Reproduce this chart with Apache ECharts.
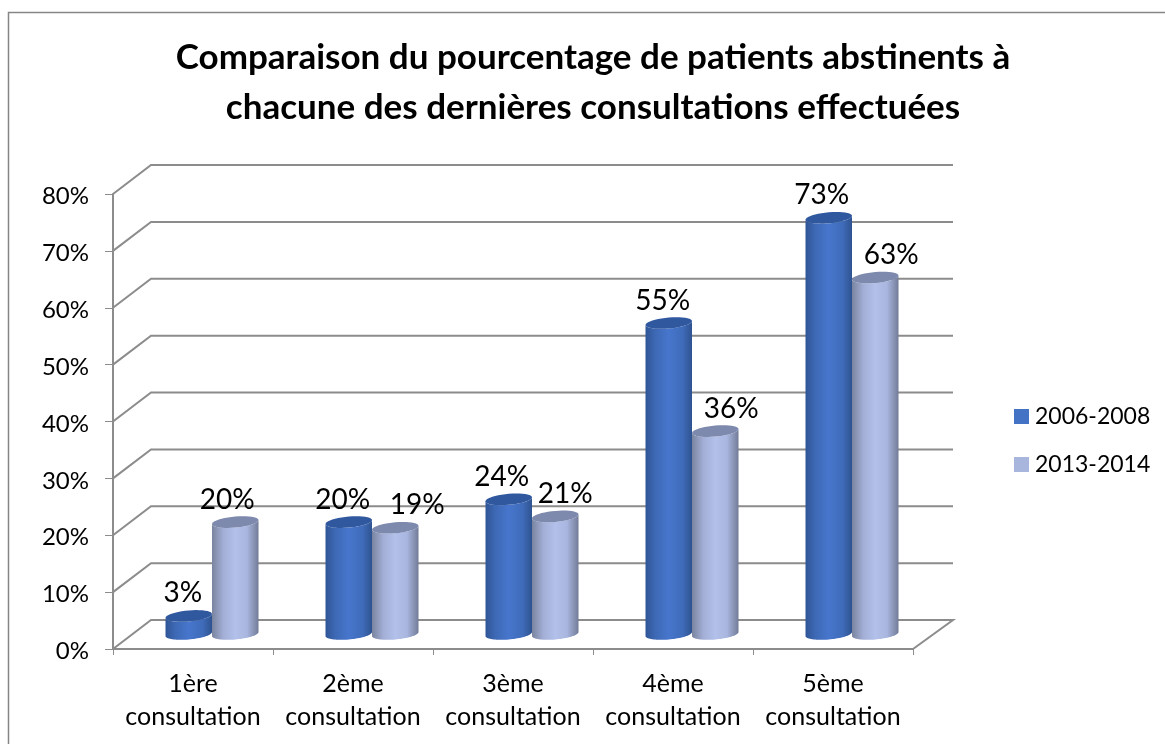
<!DOCTYPE html>
<html><head><meta charset="utf-8">
<style>html,body{margin:0;padding:0;background:#fff}#c{width:1165px;height:744px}</style>
<script src="https://cdn.jsdelivr.net/npm/echarts@6/dist/echarts.min.js"></script>
</head><body><div id="c"></div>
<script>
const categories = ['1ère\nconsultation','2ème\nconsultation','3ème\nconsultation','4ème\nconsultation','5ème\nconsultation'];
const seriesNames = ['2006-2008','2013-2014'];
const values2006 = [3,19.5,23.5,54.5,73];
const values2013 = [19.5,18.5,20.5,35.5,62.5];
const labelShift2006 = [-6,-6,-7,-6,-7];
const labelShift2013 = [-8,22,10,16,16];
const yTicks = [0,10,20,30,40,50,60,70,80];

const FONT='Lato, Carlito, sans-serif';
const GRAY='#8c8c8c';
const chart=echarts.init(document.getElementById('c'),null,{renderer:'canvas'});

function wallItem(params,api){
  const v=api.value(0);
  const w=api.size([1,0])[0];
  const l=api.coord([0,v]); const r=api.coord([4,v]);
  const x0=l[0]-w/2, x1=r[0]+w/2, y=l[1];
  const dx=w*38/160, dy=-29;
  const pts=[[x0,y],[x0+dx,y+dy],[x1+dx+2,y+dy]];
  if(v===0) pts.push([x1,y]);
  return {type:'polyline',shape:{points:pts},style:{fill:null,stroke:GRAY,lineWidth:2},silent:true};
}
function ellipsePts(cx,cy,a,b,k,from,to){
  const out=[];const n=40;
  for(let i=0;i<=n;i++){
    const t=from+(to-from)*i/n;
    out.push([cx+a*Math.cos(t),cy+b*Math.sin(t)-k*a*Math.cos(t)]);
  }
  return out;
}
function cylinder(side,body,top,shifts){
  return function(params,api){
    const c=api.value(0), v=api.value(1);
    const w=api.size([1,0])[0];
    const bw=w*46.5/160;
    const off=w*19/160;
    const cx=api.coord([c,0])[0]+off+side*bw/2;
    const base=api.coord([c,0])[1]-15;
    const topY=api.coord([c,v])[1]-16;
    const a=bw/2,b=5.5,k=0.085;
    const lower=ellipsePts(cx,base,a,b,k,0,Math.PI);
    return {type:'group',children:[
      {type:'polygon',shape:{points:ellipsePts(cx,topY,a,b,k,Math.PI,0).concat(lower)},
       style:{fill:new echarts.graphic.LinearGradient(0,0,1,0,body)}},
      {type:'polygon',shape:{points:ellipsePts(cx,topY,a,b,k,0,2*Math.PI)},style:{fill:top}},
      {type:'text',style:{text:Math.round(v)+'%',x:cx+shifts[params.dataIndex],y:topY-22.5,align:'center',verticalAlign:'middle',font:'28px '+FONT,fill:'#000'}}
    ]};
  };
}
const blueBody=[{offset:0,color:'#2f5596'},{offset:.2,color:'#3d68b3'},{offset:.5,color:'#4676cd'},{offset:.8,color:'#3f6bb9'},{offset:1,color:'#2e5390'}];
const lightBody=[{offset:0,color:'#7a84a0'},{offset:.25,color:'#a3afd6'},{offset:.5,color:'#b2c0ea'},{offset:.75,color:'#a9b6df'},{offset:1,color:'#727c98'}];

chart.setOption({
  animation:false,
  backgroundColor:'#fff',
  title:{text:'Comparaison du pourcentage de patients abstinents à\nchacune des dernières consultations effectuées',
    left:588,top:28,textAlign:'center',
    textStyle:{fontFamily:FONT,fontWeight:'bold',fontSize:35,lineHeight:50,color:'#000'}},
  legend:{orient:'vertical',left:1009,top:400,itemWidth:15,itemHeight:15,itemGap:25,
    textStyle:{fontFamily:FONT,fontSize:23,color:'#000',padding:[0,0,0,1]},
    data:[{name:seriesNames[0],icon:'rect',itemStyle:{color:'#4472c4'}},{name:seriesNames[1],icon:'rect',itemStyle:{color:'#a8b5dc'}}]},
  grid:{left:113,top:194,width:800,height:455},
  xAxis:{type:'category',data:categories,boundaryGap:true,
    axisLine:{lineStyle:{color:GRAY,width:2}},
    axisTick:{show:true,length:6,interval:0,alignWithLabel:false,lineStyle:{color:GRAY}},
    axisLabel:{interval:0,margin:18,fontFamily:FONT,fontSize:25,lineHeight:33,color:'#000'}},
  yAxis:{type:'value',min:0,max:80,interval:10,
    axisLine:{show:true,lineStyle:{color:GRAY,width:2}},
    axisTick:{show:true,length:8,lineStyle:{color:GRAY}},
    splitLine:{show:false},
    axisLabel:{margin:24,color:'#000',formatter:'{a|{value}%}',
      rich:{a:{fontFamily:FONT,fontSize:24,color:'#000',padding:[5,0,0,0]}}}},
  graphic:[{type:'rect',shape:{x:8.5,y:12.5,width:1160,height:740},style:{fill:null,stroke:'#868686',lineWidth:1.5},silent:true,z:-1}],
  series:[
    {type:'custom',name:'walls',coordinateSystem:'cartesian2d',data:yTicks.map(v=>[v]),encode:{y:0},renderItem:wallItem,silent:true,z:1},
    {type:'custom',name:seriesNames[0],coordinateSystem:'cartesian2d',itemStyle:{color:'#4472c4'},
      data:values2006.map((v,i)=>[i,v]),encode:{x:0,y:1},renderItem:cylinder(-1,blueBody,'#30589f',labelShift2006),z:2},
    {type:'custom',name:seriesNames[1],coordinateSystem:'cartesian2d',itemStyle:{color:'#b0bde8'},
      data:values2013.map((v,i)=>[i,v]),encode:{x:0,y:1},renderItem:cylinder(1,lightBody,'#7d89ad',labelShift2013),z:3}
  ]
});
</script></body></html>
